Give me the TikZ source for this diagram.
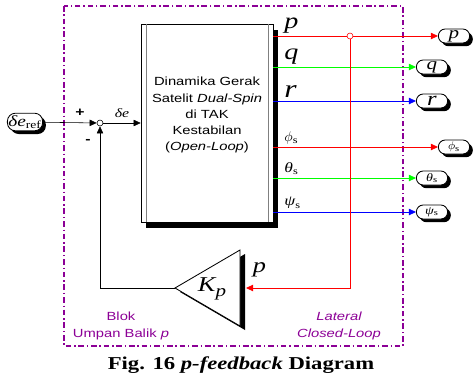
\documentclass[tikz,border=0pt]{standalone}
\usepackage{fontspec}
\setmainfont{Liberation Serif}[FakeStretch=1.25]
\setsansfont{Liberation Sans}[FakeStretch=1.25]
\usepackage{xcolor}
\usetikzlibrary{arrows.meta,positioning,calc,shadows}
\definecolor{ungu}{RGB}{140,0,150}
\newcommand{\fsz}[1]{\fontsize{#1}{#1}\selectfont}
\tikzset{
  term/.style={draw,semithick,fill=white,rounded corners=0.17cm,minimum width=0.78cm,minimum height=0.35cm,inner sep=0pt,
    drop shadow={shadow xshift=0.08cm,shadow yshift=-0.08cm,fill=black,opacity=1}},
  dot/.style={draw,circle,fill=white,inner sep=0pt,minimum size=0.15cm}
}

\begin{document}
\begin{tikzpicture}[x=0.025cm,y=-0.025cm,font=\sffamily,>={Triangle[length=5pt,width=4.5pt]}]
\useasboundingbox (0,0) rectangle (475,377);
\draw[ungu,line width=0.8pt,dash pattern=on 4pt off 2pt on 1pt off 2pt] (64,6) rectangle (403,346);
\node[draw,fill=white,minimum width=3.3cm,minimum height=4.95cm,
  drop shadow={shadow xshift=0.125cm,shadow yshift=-0.14cm,fill=black,opacity=1}] (blk) at (207,123) {};
\draw[gray] ([xshift=0.15cm]blk.north west) -- ([xshift=0.15cm]blk.south west);
\draw[gray] ([xshift=-0.125cm]blk.north east) -- ([xshift=-0.125cm]blk.south east);
\node[align=center,font=\sffamily\fontsize{8.4}{11.4}\selectfont] (blktx) at (207,115) {Dinamika Gerak\\Satelit \textit{Dual-Spin}\\di TAK\\Kestabilan\\(\textit{Open-Loop})};
\node[term,minimum width=0.88cm,minimum height=0.44cm,rounded corners=0.2cm] (ref) at (25,122) {\rmfamily\fsz{11}\textit{δe}\textsubscript{\upshape ref}};
\node[dot] (sum) at (100,123) {};
\node[font=\sffamily\bfseries\fsz{9}] (plus) at (80,113) {+};
\node[font=\sffamily\bfseries\fsz{9}] (minus) at (88,141) {-};
\draw[->] (ref) -- (sum);
\draw[->] (sum) -- node[above,font=\rmfamily\itshape\fsz{9}]{δe} (blk);
\foreach \nm/\y/\xt/\col/\lab/\tlab in {
  p/36/454/red/{\fsz{16}p}/{\fsz{12}p},
  q/67/432/green/{\fsz{16}q}/{\fsz{12}q},
  r/101/432/blue/{\fsz{18}r}/{\fsz{14}r},
  phi/147/454/red/{\fsz{10}$\phi$\textsubscript{\upshape s}}/{\fsz{8}$\phi$\textsubscript{\upshape s}},
  theta/178/432/green/{\fsz{10}θ\textsubscript{\upshape s}}/{\fsz{8}θ\textsubscript{\upshape s}},
  psi/212/432/blue/{\fsz{10}ψ\textsubscript{\upshape s}}/{\fsz{8}ψ\textsubscript{\upshape s}}}{
  \node[term] (t\nm) at (\xt,\y) {\rmfamily\itshape\tlab};
  \draw[->,\col,semithick] (blk.east |- t\nm) -- (t\nm);
  \node[anchor=south west,inner sep=2pt,font=\rmfamily\itshape] (l\nm) at ([xshift=0.2cm]blk.east |- t\nm) {\lab};
}
\node[dot,draw=red] (br) at (350,36) {};
\fill (180,292) -- (245,254) -- (245,330) -- cycle;
\draw[fill=white,semithick] (175,288) -- (240,250) -- (240,326) -- cycle;
\coordinate (kpin) at (246,288);
\coordinate (kpout) at (175,288);
\node[font=\rmfamily\itshape] (kp) at (212,289) {\fsz{15}K\raisebox{-3.5pt}{\fsz{12}p}};
\node[anchor=south west,font=\rmfamily\itshape\fsz{15}] (lfb) at (248,282) {p};
\draw[->,red,semithick] (br) |- (kpin);
\draw[->] (kpout) -| (sum);
\node[ungu,align=center,font=\sffamily\fontsize{8.4}{12}\selectfont] (blok) at (121,326) {Blok\\Umpan Balik \textit{p}};
\node[ungu,align=center,font=\sffamily\itshape\fontsize{8.4}{12}\selectfont] (lat) at (339,326) {Lateral\\Closed-Loop};
\node[font=\rmfamily\bfseries\fontsize{12.9}{14}\selectfont] (cap) at (241,365) {Fig. 16 \textit{p-feedback} Diagram};
\end{tikzpicture}
\end{document}
